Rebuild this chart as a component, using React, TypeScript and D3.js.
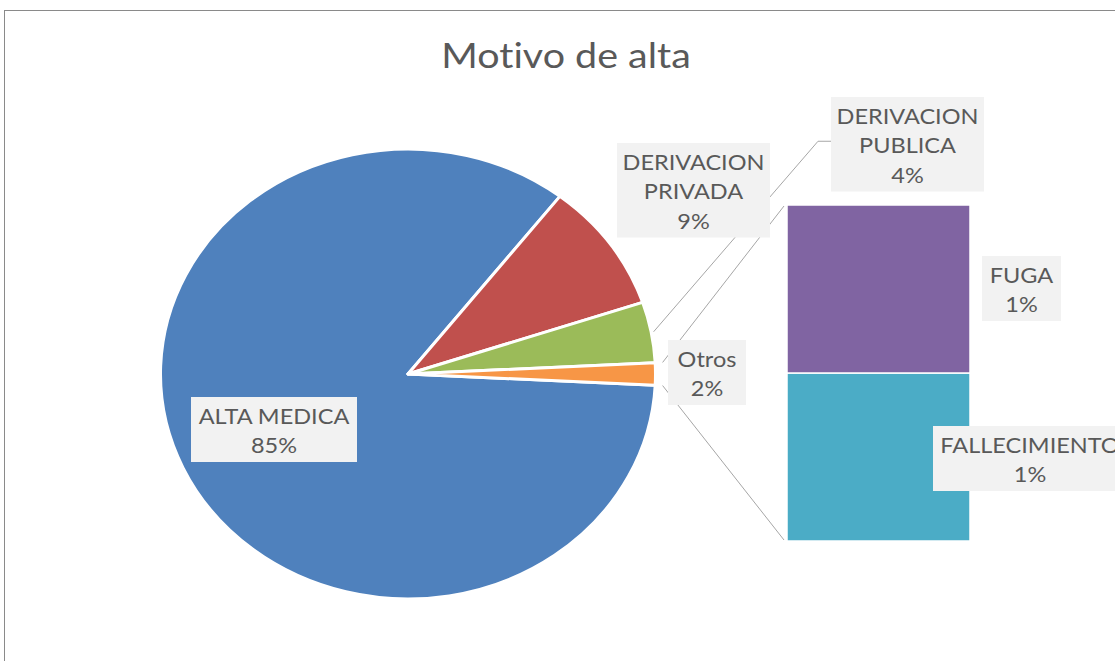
import React from 'react';
import * as d3 from 'd3';

// ---------- data ----------
const title = 'Motivo de alta';
const categories = ['ALTA MEDICA', 'DERIVACION PRIVADA', 'DERIVACION PUBLICA', 'FUGA', 'FALLECIMIENTO'];
const values = [427, 47, 22, 4, 4];
const colors = ['#4F81BD', '#C0504D', '#9BBB59', '#8064A2', '#4BACC6'];
const otrosLabel = 'Otros';
const otrosColor = '#F79646';
const secondaryCount = 2; // last N categories go to the bar

// ---------- layout ----------
const W = 1115;
const H = 661;
const cx = 408;
const cy = 374;
const r = 225;
const sx = 1.1; // horizontal stretch of the picture
const barBox = { x0: 787, x1: 970, y0: 205, y1: 541 };
const textColor = '#595959';
const lineH = 29.5;
const fontFamily = 'Lato, "Open Sans", sans-serif';

const labelLayout: Record<string, { left: number; top: number; w: number; wrap: boolean }> = {
  'ALTA MEDICA': { left: 191, top: 397, w: 166, wrap: false },
  'DERIVACION PRIVADA': { left: 617, top: 143, w: 153, wrap: true },
  'DERIVACION PUBLICA': { left: 831, top: 97, w: 153, wrap: true },
  Otros: { left: 668, top: 340, w: 78, wrap: false },
  FUGA: { left: 982, top: 256, w: 79, wrap: false },
  FALLECIMIENTO: { left: 933, top: 426, w: 194, wrap: false },
};

export default function App() {
  const total = d3.sum(values);
  const mainCats = categories.slice(0, categories.length - secondaryCount);
  const mainVals = values.slice(0, values.length - secondaryCount);
  const secCats = categories.slice(categories.length - secondaryCount);
  const secVals = values.slice(values.length - secondaryCount);
  const otrosSum = d3.sum(secVals);

  const pieCats = [...mainCats, otrosLabel];
  const pieVals = [...mainVals, otrosSum];
  const pieColors = [...colors.slice(0, mainCats.length), otrosColor];

  const half = (otrosSum / total) * Math.PI;
  const start = Math.PI / 2 + half;
  const pie = d3
    .pie<number>()
    .sort(null)
    .value((d) => d)
    .startAngle(start)
    .endAngle(start + 2 * Math.PI);
  const arcs = pie(pieVals);
  const arc = d3.arc<d3.PieArcDatum<number>>().innerRadius(0).outerRadius(r);

  const pt = (a: number, rr: number) => [cx + sx * rr * Math.sin(a), cy - rr * Math.cos(a)];

  // bar (stack from bottom: last category at the bottom)
  const y = d3.scaleLinear().domain([0, otrosSum]).range([barBox.y1, barBox.y0]);
  const stackOrder = secCats.map((c, i) => ({ c, v: secVals[i], color: colors[mainCats.length + i] })).reverse();
  let acc = 0;
  const barSegs = stackOrder.map((s) => {
    const seg = { ...s, y0: acc, y1: acc + s.v };
    acc += s.v;
    return seg;
  });

  const otrosArc = arcs[arcs.length - 1];
  const topStart = pt(otrosArc.startAngle, r * 1.03);
  const botStart = pt(otrosArc.endAngle, r * 1.03);

  const pct = (v: number) => `${Math.round((v / total) * 100)}%`;

  const labels = [
    ...pieCats.map((c, i) => ({ c, v: pieVals[i] })),
    ...secCats.map((c, i) => ({ c, v: secVals[i] })),
  ];

  // leader for DERIVACION PUBLICA
  const pubIdx = pieCats.indexOf('DERIVACION PUBLICA');
  const pubArc = arcs[pubIdx];
  const pubMid = (pubArc.startAngle + pubArc.endAngle) / 2;
  const pubL = labelLayout['DERIVACION PUBLICA'];
  const pubStart = pt(pubMid, r * 1.01);
  const pubH = 3 * lineH + 6;
  const pubY = pubL.top + pubH / 2 - 3;

  return (
    <svg
      width={W}
      height={H}
      style={{ position: 'absolute', left: 0, top: 0, fontVariantLigatures: 'none' }}
      fontFamily={fontFamily}
    >
      <rect x={0} y={0} width={W} height={H} fill="#fff" />
      <rect x={4.5} y={10.5} width={W + 50} height={H + 50} fill="none" stroke="#8a8a8a" strokeWidth={1} />

      <text
        transform={`translate(${566},${68}) scale(1.16,1)`}
        textAnchor="middle"
        fontSize={34}
        fill={textColor}
      >
        {title}
      </text>

      <g transform={`translate(${cx},${cy}) scale(${sx},1)`}>
        {arcs.map((a, i) => (
          <path
            key={pieCats[i]}
            d={arc(a) || ''}
            fill={pieColors[i]}
            stroke="#fff"
            strokeWidth={3}
            vectorEffect="non-scaling-stroke"
            strokeLinejoin="round"
          />
        ))}
      </g>

      {barSegs.map((s) => (
        <rect
          key={s.c}
          x={barBox.x0}
          y={y(s.y1)}
          width={barBox.x1 - barBox.x0}
          height={y(s.y0) - y(s.y1)}
          fill={s.color}
          stroke="#fff"
          strokeWidth={1.5}
        />
      ))}

      <g stroke="#a6a6a6" strokeWidth={1} fill="none">
        <line x1={topStart[0]} y1={topStart[1]} x2={barBox.x0 - 3} y2={barBox.y0 + 1} />
        <line x1={botStart[0]} y1={botStart[1]} x2={barBox.x0 - 3} y2={barBox.y1 - 1} />
        <polyline
          points={`${pubStart[0]},${pubStart[1]} ${pubL.left - 13},${pubY} ${pubL.left},${pubY}`}
        />
      </g>

      {labels.map(({ c, v }) => {
        const L = labelLayout[c];
        const lines = [...(L.wrap ? c.split(' ') : [c]), pct(v)];
        const h = lines.length * lineH + 6;
        const mx = L.left + L.w / 2;
        return (
          <g key={c}>
            <rect x={L.left} y={L.top} width={L.w} height={h} fill="#F2F2F2" />
            {lines.map((ln, j) => (
              <text
                key={j}
                transform={`translate(${mx},${L.top + 26.7 + j * lineH}) scale(1.12,1)`}
                textAnchor="middle"
                fontSize={21}
                fill={textColor}
              >
                {ln}
              </text>
            ))}
          </g>
        );
      })}
    </svg>
  );
}
